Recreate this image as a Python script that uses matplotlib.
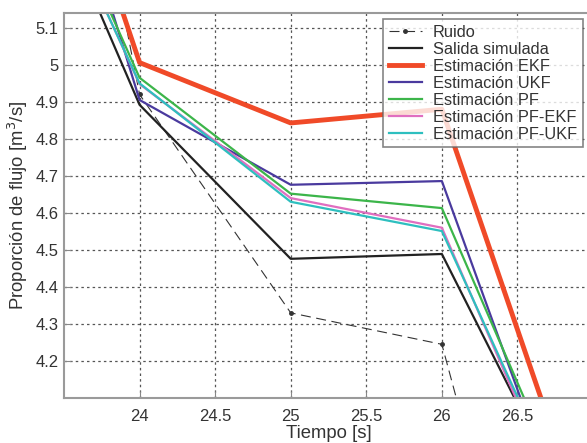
import matplotlib.pyplot as plt
import numpy as np

plt.rcParams['font.family'] = ['Liberation Sans', 'DejaVu Sans']

# time samples [s]
t = [23, 24, 25, 26, 27]

# flow rate series [m^3/s]
ruido = [7.0, 4.92, 4.33, 4.245, 2.73]
salida = [5.84, 4.892, 4.476, 4.489, 3.68]
ekf = [6.22, 5.006, 4.843, 4.88, 3.69]
ukf = [6.23, 4.905, 4.676, 4.686, 3.56]
pf = [5.88, 4.965, 4.652, 4.613, 3.67]
pf_ekf = [5.84, 4.948, 4.64, 4.56, 3.62]
pf_ukf = [5.83, 4.95, 4.63, 4.551, 3.656]

xticks = [24, 24.5, 25, 25.5, 26, 26.5]
yticks = [4.2, 4.3, 4.4, 4.5, 4.6, 4.7, 4.8, 4.9, 5, 5.1]

W, H = 587, 443
fig = plt.figure(figsize=(W / 100, H / 100), dpi=100)
ax = fig.add_axes([64 / W, (H - 398) / H, (593 - 64) / W, (398 - 13) / H])

ax.plot(t, ruido, '--', color='#333333', lw=0.8, marker='.', ms=5,
        dashes=(9, 5), label='Ruido')
ax.plot(t, salida, '-', color='#222222', lw=1.6, label='Salida simulada')
ax.plot(t, ekf, '-', color='#f04a28', lw=3.5, label='Estimación EKF')
ax.plot(t, ukf, '-', color='#4a3a9e', lw=1.6, label='Estimación UKF')
ax.plot(t, pf, '-', color='#3cb54a', lw=1.6, label='Estimación PF')
ax.plot(t, pf_ekf, '-', color='#e06ec0', lw=1.6, label='Estimación PF-EKF')
ax.plot(t, pf_ukf, '-', color='#2ebfbf', lw=1.6, label='Estimación PF-UKF')

ax.set_xlim(23.5, 27)
ax.set_ylim(4.1, 5.14)
ax.set_xticks(xticks)
ax.set_xticklabels([f'{v:g}' for v in xticks])
ax.set_yticks(yticks)
ax.set_yticklabels([f'{v:g}' for v in yticks])

ax.grid(True, color='#555555', linestyle=(0, (2, 2.5)), lw=0.9)
ax.tick_params(direction='in', length=5, color='#888888', labelsize=12,
               labelcolor='#333333')
ax.tick_params(axis='x', pad=8)
ax.tick_params(axis='y', pad=4)
for s in ax.spines.values():
    s.set_color('#9a9a9a')
    s.set_linewidth(1.5)

ax.set_xlabel('Tiempo [s]', fontsize=13.3, color='#333333', labelpad=1)
ax.set_ylabel('Proporción de flujo [m$^3$/s]', fontsize=13.3, color='#333333',
              labelpad=4)

leg = ax.legend(loc='upper left', bbox_to_anchor=(383 / W, 1 - 19 / H),
                bbox_transform=fig.transFigure, fontsize=11.8,
                frameon=True, fancybox=False, borderpad=0.35,
                labelspacing=0.12, handlelength=2.0, handletextpad=0.7,
                borderaxespad=0)
leg.get_frame().set_edgecolor('#666666')
leg.get_frame().set_linewidth(1.2)
for txt in leg.get_texts():
    txt.set_color('#333333')

fig.savefig('out.png', dpi=100)
